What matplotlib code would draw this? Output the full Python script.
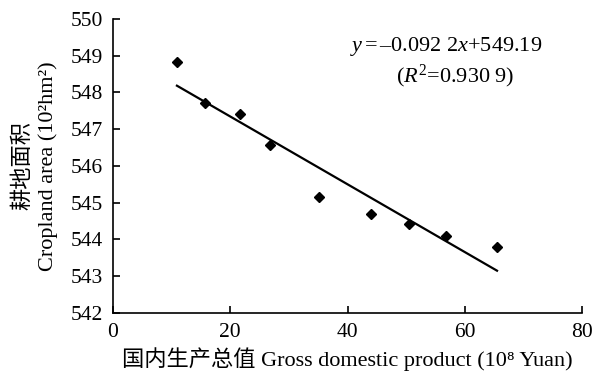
import numpy as np
import matplotlib
matplotlib.use("Agg")
import matplotlib.pyplot as plt

plt.rcParams['font.family'] = ['Liberation Serif', 'Noto Sans CJK SC', 'DejaVu Serif']
plt.rcParams['mathtext.fontset'] = 'custom'
plt.rcParams['mathtext.rm'] = 'Liberation Serif'
plt.rcParams['mathtext.it'] = 'Liberation Serif:italic'

# GDP (10^8 yuan) vs cropland area (10^2 hm^2)
gdp = [10.9, 15.7, 21.7, 26.7, 35.2, 44.0, 50.5, 56.8, 65.5]
cropland = [548.83, 547.71, 547.41, 546.56, 545.15, 544.68, 544.42, 544.10, 543.80]
slope = -0.0922
intercept = 549.19
x_ticks = [0, 20, 40, 60, 80]
y_ticks = [542, 543, 544, 545, 546, 547, 548, 549, 550]

fig = plt.figure(figsize=(5.93, 3.76), dpi=100)
ax = fig.add_axes([0.1906, 0.1676, 0.7909, 0.7819])

ax.plot(gdp, cropland, 'D', color='black', markersize=5.5, linestyle='None')
fit_x = np.array([min(gdp), max(gdp)])
ax.plot(fit_x, slope * fit_x + intercept, color='black', linewidth=1.6)

ax.set_xlim(0, 80)
ax.set_ylim(542, 550)
ax.set_xticks(x_ticks)
ax.set_yticks(y_ticks)
ax.spines['top'].set_visible(False)
ax.spines['right'].set_visible(False)
for s in ['left', 'bottom']:
    ax.spines[s].set_linewidth(1.2)
ax.tick_params(direction='in', length=5, width=1.2, labelsize=15.5)
ax.tick_params(axis='x', pad=7)
ax.tick_params(axis='y', pad=7)

ax.set_xlabel('国内生产总值 Gross domestic product (10⁸ Yuan)', fontsize=16, labelpad=4)
ax.set_ylabel('耕地面积\nCropland area (10²hm²)', fontsize=16, labelpad=9, linespacing=1.35)

ax.text(0.916, 0.905, r'$y$$\,$=$\,$–0.092 2$x$+549.19', transform=ax.transAxes,
        ha='right', va='center', fontsize=16)
ax.text(0.729, 0.805, r'($R^2$=0.930 9)', transform=ax.transAxes,
        ha='center', va='center', fontsize=16)

fig.savefig('out.png', dpi=100)
